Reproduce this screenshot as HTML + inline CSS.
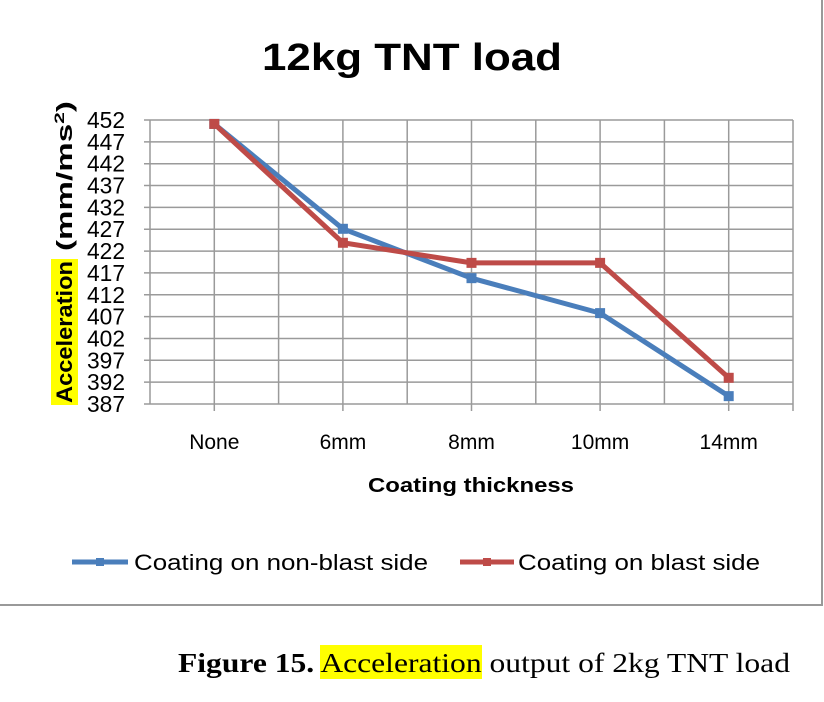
<!DOCTYPE html>
<html><head><meta charset="utf-8"><style>
body{margin:0;background:#fff;}
svg{display:block;}
</style></head><body>
<svg id="chart" width="824" height="702" viewBox="0 0 824 702" font-family="Liberation Sans, sans-serif">
<rect x="-2" y="-2" width="824" height="607" fill="#fff" stroke="#999" stroke-width="2"/>
<text x="412" y="70" text-anchor="middle" font-weight="bold" font-size="38" textLength="300" lengthAdjust="spacingAndGlyphs">12kg TNT load</text>
<g id="grid"></g>
<g id="yticks"></g>
<g id="xticks"></g>
<g id="series"></g>
<g transform="translate(72,405) rotate(-90)">
<rect x="0" y="-21" width="146" height="27" fill="#ffff00"/>
<text x="2" y="0" font-weight="bold" font-size="22" textLength="142" lengthAdjust="spacingAndGlyphs">Acceleration</text>
<text x="154" y="0" font-weight="bold" font-size="22" textLength="150" lengthAdjust="spacingAndGlyphs">(mm/ms<tspan font-size="14" dy="-8">2</tspan><tspan dy="8">)</tspan></text>
</g>
<text x="471" y="492" text-anchor="middle" font-weight="bold" font-size="20" textLength="206" lengthAdjust="spacingAndGlyphs">Coating thickness</text>
<g>
<g>
<line x1="72" y1="562" x2="128" y2="562" stroke="#4a7ebb" stroke-width="5"/>
<rect x="96" y="558" width="8" height="8" fill="#4a7ebb"/>
<text x="134" y="570" font-size="22" textLength="294" lengthAdjust="spacingAndGlyphs">Coating on non-blast side</text>
</g>
<g>
<line x1="460" y1="562" x2="514" y2="562" stroke="#be4b48" stroke-width="5"/>
<rect x="483" y="558" width="8" height="8" fill="#be4b48"/>
<text x="518" y="570" font-size="22" textLength="242" lengthAdjust="spacingAndGlyphs">Coating on blast side</text>
</g>
</g>
<g>
<rect x="320" y="645" width="162" height="34" fill="#ffff00"/>
<text x="178" y="672" font-family="Liberation Serif, serif" font-size="27" textLength="612" lengthAdjust="spacingAndGlyphs"><tspan font-weight="bold">Figure 15.</tspan> Acceleration output of 2kg TNT load</text>
</g>
</svg>
<script>
const categories=["None","6mm","8mm","10mm","14mm"];
const nonBlast=[451.1,427.1,415.8,407.8,388.8];
const blast=[451.1,423.9,419.3,419.3,393];
const yTicks=[387,392,397,402,407,412,417,422,427,432,437,442,447,452];
const NS="http://www.w3.org/2000/svg";
const L=150,R=793,T=120,B=404,yMin=387,yMax=452;
const step=(R-L)/(categories.length*2);
function xs(i){return L+step*(2*i+1);}
function ys(v){return B-(v-yMin)/(yMax-yMin)*(B-T);}
function mk(tag,attrs,parent){const e=document.createElementNS(NS,tag);for(const k in attrs)e.setAttribute(k,attrs[k]);parent.appendChild(e);return e;}
const grid=document.getElementById('grid');
yTicks.forEach(v=>{const l=mk('line',{x1:L-6,x2:R,y1:ys(v),y2:ys(v),stroke:'#9a9a9a','stroke-width':1.5},grid);

});
for(let k=0;k<=categories.length*2;k++){const x=L+step*k;const isTick=(k%2===1)||k===categories.length*2;
const l=mk('line',{x1:x,x2:x,y1:T,y2:B+(isTick?7:0),stroke:'#9a9a9a','stroke-width':1.5},grid);

}
const yt=document.getElementById('yticks');
yTicks.forEach(v=>{const t=mk('text',{x:125,y:ys(v)+8,'text-anchor':'end','font-size':23,textLength:38,lengthAdjust:'spacingAndGlyphs'},yt);t.textContent=v;

});
const xt=document.getElementById('xticks');
categories.forEach((c,i)=>{const t=mk('text',{x:xs(i),y:449,'text-anchor':'middle','font-size':21},xt);t.textContent=c;

});
const sg=document.getElementById('series');
function drawSeries(vals,color,name){
const pts=vals.map((v,i)=>xs(i)+','+ys(v)).join(' ');
const pl=mk('polyline',{points:pts,fill:'none',stroke:color,'stroke-width':5,'stroke-linejoin':'round'},sg);


vals.forEach((v,i)=>{const r=mk('rect',{x:xs(i)-5,y:ys(v)-5,width:10,height:10,fill:color},sg);

});}
drawSeries(nonBlast,'#4a7ebb','non-blast');
drawSeries(blast,'#be4b48','blast');
</script>
</body></html>
